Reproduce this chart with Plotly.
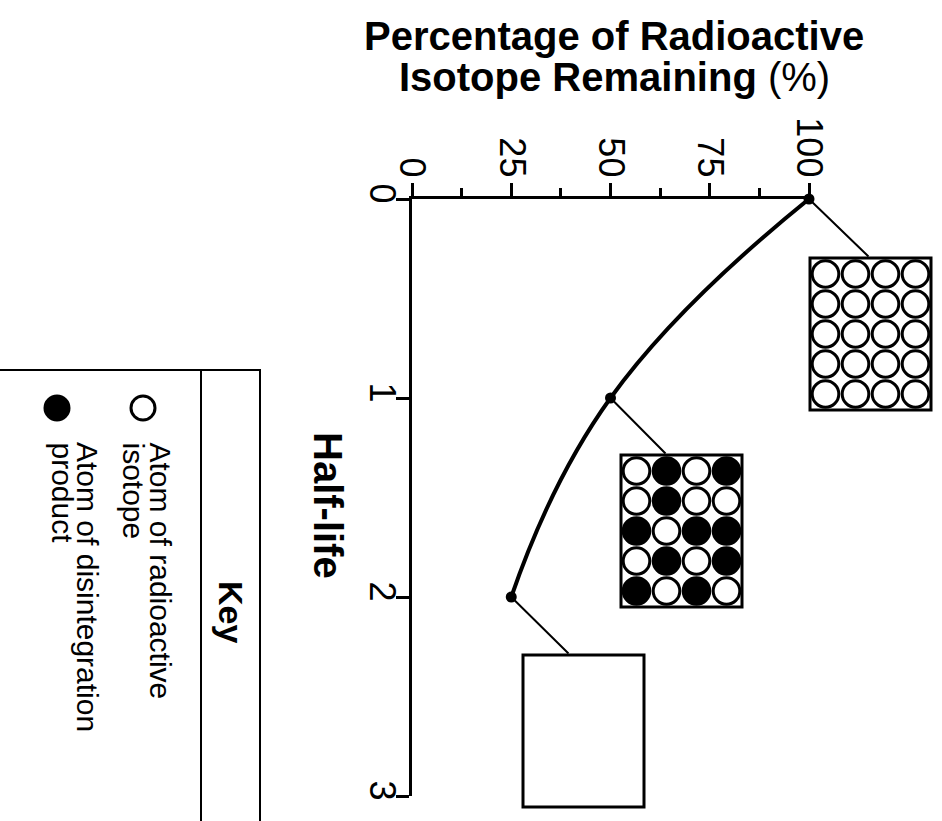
import plotly.graph_objects as go

W, H = 942, 821

# ---- data ----
half_life = [0, 1, 2]
pct_remaining = [100, 50, 25]
pct_ticks = [0, 25, 50, 75, 100]
pct_minor = [12.5, 37.5, 62.5, 87.5]
hl_ticks = [0, 1, 2, 3]

# atom grids (rows top->bottom, cols left->right): 1 = radioactive isotope (open), 0 = disintegration product (filled)
atoms_0 = [[1, 1, 1, 1]] * 5
atoms_1 = [[1, 0, 1, 0],
           [1, 0, 1, 1],
           [0, 1, 0, 0],
           [1, 0, 1, 0],
           [0, 1, 0, 1]]
atoms_2 = None  # left blank

title_lines = ["<b>Percentage of Radioactive</b>", "<b>Isotope Remaining</b> (%)"]
key_items = [("white", ["Atom of radioactive", "isotope"]),
             ("black", ["Atom of disintegration", "product"])]

FONT = "Liberation Sans, Arial, Helvetica, sans-serif"


def px(x):
    return x / W


def py(y):
    return 1 - y / H


x_lo, x_hi = 412, 809
y_lo, y_hi = 199, 796

fig = go.Figure()
fig.add_trace(go.Scatter(
    x=pct_remaining, y=half_life, mode="lines+markers",
    line=dict(color="black", width=4, shape="spline", smoothing=1.3),
    marker=dict(color="black", size=11),
    cliponaxis=False, showlegend=False, hoverinfo="skip"))

shapes = []
annotations = []

# boxes: top-left pixel corner, atom grid, connector target on box top edge
boxes = [((810, 258), atoms_0, (870, 258)),
         ((621, 455), atoms_1, (667, 455)),
         ((523, 655), atoms_2, (570, 655))]
BW, BH, CELL = 121, 152, 30
for (bx, by), grid, _ in boxes:
    shapes.append(dict(type="rect", xref="paper", yref="paper",
                       x0=px(bx), x1=px(bx + BW), y0=py(by), y1=py(by + BH),
                       line=dict(color="black", width=3), fillcolor="white", layer="above"))
    if grid is not None:
        for r, row in enumerate(grid):
            for c, v in enumerate(row):
                ccx = bx + 0.5 + 15 + CELL * c
                ccy = by + 1 + 15 + CELL * r
                rr = 13.3
                shapes.append(dict(type="circle", xref="paper", yref="paper",
                                   x0=px(ccx - rr), x1=px(ccx + rr),
                                   y0=py(ccy - rr), y1=py(ccy + rr),
                                   line=dict(color="black", width=3),
                                   fillcolor="white" if v == 1 else "black", layer="above"))


def data_px(xv, yv):
    return (x_lo + xv / 100 * (x_hi - x_lo), y_lo + yv / 3 * (y_hi - y_lo))


# connector lines from data points to boxes
for xv, yv, (_, _, (tx, ty)) in zip(pct_remaining, half_life, boxes):
    dx, dy = data_px(xv, yv)
    annotations.append(dict(x=xv, y=yv, xref="x", yref="y", text="",
                            showarrow=True, arrowhead=0, arrowwidth=2, arrowcolor="black",
                            ax=tx - dx, ay=ty - dy, axref="pixel", ayref="pixel", standoff=0))

# title
for txt, yy in zip(title_lines, [36, 77]):
    annotations.append(dict(x=px(614), y=py(yy), xref="paper", yref="paper",
                            text=txt, showarrow=False, xanchor="center", yanchor="middle",
                            font=dict(family=FONT, size=40, color="black")))
# y-axis title
annotations.append(dict(x=px(328), y=py(505), xref="paper", yref="paper",
                        text="<b>Half-life</b>", showarrow=False, textangle=90,
                        xanchor="center", yanchor="middle",
                        font=dict(family=FONT, size=40, color="black")))

# key
shapes.append(dict(type="rect", xref="paper", yref="paper",
                   x0=px(-10), x1=px(260), y0=py(370), y1=py(840),
                   line=dict(color="black", width=2)))
shapes.append(dict(type="line", xref="paper", yref="paper",
                   x0=px(201), x1=px(201), y0=py(370), y1=py(840),
                   line=dict(color="black", width=2)))
annotations.append(dict(x=px(231), y=py(612), xref="paper", yref="paper",
                        text="<b>Key</b>", showarrow=False, textangle=90,
                        xanchor="center", yanchor="middle",
                        font=dict(family=FONT, size=34, color="black")))
sym_x = [143, 57]
line_x = [[160, 133], [88, 62]]
for (fill, lines), sx, lxs in zip(key_items, sym_x, line_x):
    shapes.append(dict(type="circle", xref="paper", yref="paper",
                       x0=px(sx - 12), x1=px(sx + 12), y0=py(408 - 12), y1=py(408 + 12),
                       line=dict(color="black", width=3), fillcolor=fill))
    for ln, lx in zip(lines, lxs):
        annotations.append(dict(x=px(lx), y=py(440), xref="paper", yref="paper",
                                text=ln, showarrow=False, textangle=90,
                                xanchor="center", yanchor="top",
                                font=dict(family=FONT, size=30, color="black")))

fig.update_layout(
    template="none",
    width=W, height=H, margin=dict(l=0, r=0, t=0, b=0, pad=0, autoexpand=False),
    plot_bgcolor="white", paper_bgcolor="white",
    showlegend=False, shapes=shapes, annotations=annotations,
    xaxis=dict(domain=[px(x_lo), px(x_hi)], range=[0, 100], side="top",
               tickvals=pct_ticks, ticks="outside", ticklen=13, tickwidth=2.5,
               tickcolor="black", showline=True, linewidth=3, linecolor="black",
               tickangle=90, tickfont=dict(family=FONT, size=36, color="black"),
               ticklabelstandoff=-7,
               minor=dict(tickvals=pct_minor, ticks="outside", ticklen=8, tickwidth=2.5,
                          tickcolor="black"),
               showgrid=False, zeroline=False, anchor="y", automargin=False),
    yaxis=dict(domain=[py(y_hi), py(y_lo)], range=[3, 0],
               tickvals=hl_ticks, ticks="outside", ticklen=13, tickwidth=2.5,
               tickcolor="black", showline=True, linewidth=3, linecolor="black",
               tickangle=90, tickfont=dict(family=FONT, size=36, color="black"),
               ticklabelstandoff=-17,
               showgrid=False, zeroline=False, anchor="x", automargin=False),
)

fig.write_html("out.html", config={"displayModeBar": False},
               post_script="document.body.style.margin='0';document.body.style.overflow='hidden';")
